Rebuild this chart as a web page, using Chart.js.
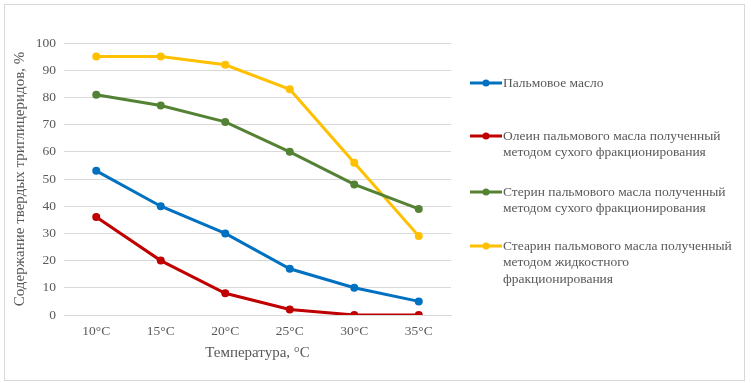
<!DOCTYPE html>
<html>
<head>
<meta charset="utf-8">
<script src="https://cdn.jsdelivr.net/npm/chart.js@4/dist/chart.umd.min.js"></script>
<style>
html,body{margin:0;padding:0;background:#fff;}
#wrap{position:relative;width:751px;height:383px;}
</style>
</head>
<body>
<div id="wrap"><canvas id="c" width="751" height="383"></canvas></div>
<script>
const categories = ['10°C','15°C','20°C','25°C','30°C','35°C'];
const palmOil = [53, 40, 30, 17, 10, 5];
const oleinDry = [36, 20, 8, 2, 0, 0];
const stearinDry = [81, 77, 71, 60, 48, 39];
const stearinLiquid = [95, 95, 92, 83, 56, 29];
const seriesNames = [
  ['Пальмовое масло'],
  ['Олеин пальмового масла полученный', 'методом сухого фракционирования'],
  ['Стерин пальмового масла полученный', 'методом сухого фракционирования'],
  ['Стеарин пальмового масла полученный', 'методом жидкостного', 'фракционирования']
];
const yTitle = 'Содержание твердых триглицеридов, %';
const xTitle = 'Температура, °С';

const FONT = "'Liberation Serif', 'Times New Roman', serif";
const TXT = '#595959';
const colors = ['#0070C0', '#C00000', '#548235', '#FFC000'];
const seriesData = [palmOil, oleinDry, stearinDry, stearinLiquid];

const frame = {
  id: 'frame',
  beforeDraw(chart) {
    const ctx = chart.ctx;
    ctx.save();
    ctx.fillStyle = '#fff';
    ctx.fillRect(0, 0, chart.width, chart.height);
    ctx.strokeStyle = '#d9d9d9';
    ctx.lineWidth = 1;
    ctx.strokeRect(4.5, 4.5, 740, 376);
    ctx.restore();
  }
};

const sideLegend = {
  id: 'sideLegend',
  afterDraw(chart) {
    const ctx = chart.ctx;
    const itemY = [83, 136, 192, 246];
    const lineH = 16.5;
    ctx.save();
    chart.data.datasets.forEach((ds, i) => {
      const y = itemY[i];
      ctx.strokeStyle = ds.borderColor;
      ctx.lineWidth = 3;
      ctx.beginPath();
      ctx.moveTo(470, y);
      ctx.lineTo(502, y);
      ctx.stroke();
      ctx.fillStyle = ds.borderColor;
      ctx.beginPath();
      ctx.arc(486, y, 3.5, 0, Math.PI * 2);
      ctx.fill();
      ctx.fillStyle = TXT;
      ctx.font = '13.5px ' + FONT;
      ctx.textBaseline = 'middle';
      ctx.textAlign = 'left';
      seriesNames[i].forEach((t, k) => ctx.fillText(t, 503, y + k * lineH));
    });
    ctx.restore();
  }
};

new Chart(document.getElementById('c'), {
  type: 'line',
  data: {
    labels: categories,
    datasets: seriesData.map((d, i) => ({
      label: seriesNames[i].join(' '),
      data: d,
      borderColor: colors[i],
      backgroundColor: colors[i],
      borderWidth: 3,
      pointRadius: 4,
      pointBackgroundColor: colors[i],
      pointBorderColor: colors[i],
      pointBorderWidth: 0,
      tension: 0,
      fill: false
    }))
  },
  options: {
    responsive: false,
    animation: false,
    layout: { padding: { left: 8, right: 300, top: 43, bottom: 10 } },
    plugins: {
      legend: { display: false },
      tooltip: { enabled: false }
    },
    scales: {
      x: {
        offset: true,
        grid: { display: false, drawTicks: false, offset: true },
        border: { display: true, color: '#d9d9d9', width: 1 },
        ticks: { color: TXT, font: { family: FONT, size: 13.5 }, padding: 8, maxRotation: 0 },
        title: { display: true, text: xTitle, color: TXT, font: { family: FONT, size: 15 }, padding: { top: 0, bottom: 11 } },
        afterFit(s) { s.height = 58; }
      },
      y: {
        min: 0, max: 100,
        ticks: { stepSize: 10, color: TXT, font: { family: FONT, size: 13.5 }, padding: 8 },
        grid: { color: '#d9d9d9', lineWidth: 1, drawTicks: false },
        border: { display: false },
        title: { display: true, text: yTitle, color: TXT, font: { family: FONT, size: 15 }, padding: { top: 3, bottom: 0 } },
        afterFit(s) { s.width = 56; }
      }
    }
  },
  plugins: [frame, sideLegend]
});
</script>
</body>
</html>
